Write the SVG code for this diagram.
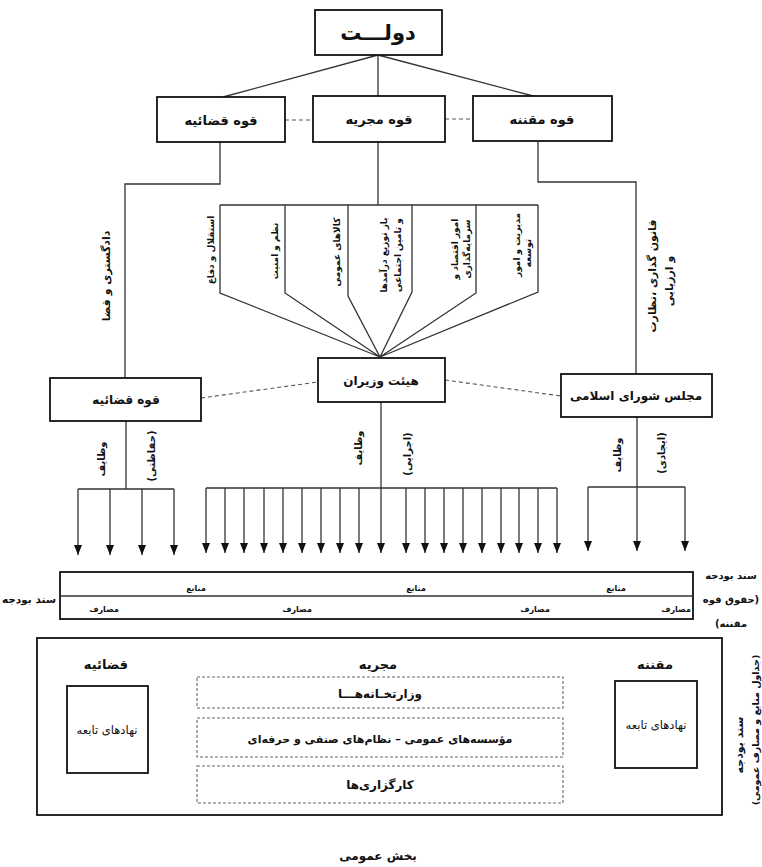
<svg xmlns="http://www.w3.org/2000/svg" width="762" height="867" viewBox="0 0 762 867">
<style>
.box{fill:#fff;stroke:#111;stroke-width:1.8}
.ln{stroke:#333;stroke-width:1.3;fill:none}
.dash{stroke:#555;stroke-width:1.1;stroke-dasharray:4 3;fill:none}
.dbox{stroke:#666;stroke-width:1.1;stroke-dasharray:3 2;fill:none}
.t{font-family:"DejaVu Sans",sans-serif;font-weight:bold;fill:#111;direction:rtl;text-anchor:middle}
.n{font-weight:normal}
.r{dominant-baseline:central}
.s8{font-size:8px}
.s9{font-size:9px}
.s10{font-size:10px}
.s11{font-size:11px}
.s12{font-size:12px}
.s13{font-size:13px}
</style>
<defs>
<marker id="ah" markerUnits="userSpaceOnUse" markerWidth="8" markerHeight="10" refX="4" refY="10" orient="0" viewBox="0 0 8 10">
<path d="M0,0 L8,0 L4,10 z" fill="#111"/>
</marker>
</defs>
<rect width="762" height="867" fill="#fff"/>

<g id="connectors">
<path class="ln" d="M378,55 L223,97 M378,55 L378,97 M378,55 L537,97"/>
<path class="dash" d="M285,120 L313,120 M445,119 L473,119"/>
<path class="ln" d="M220,142 L220,184 L125,184 L125,378"/>
<path class="ln" d="M538,142 L538,182 L636,182 L636,374"/>
<path class="ln" d="M378,142 L378,205"/>
<path class="ln" d="M220,205 L538,205 M220,205 L220,293 L380,357 M285,205 L285,293 L380,357 M348,205 L348,296 L380,357 M412,205 L412,292 L380,357 M476,205 L476,293 L380,357 M538,205 L538,292 L380,357"/>
<path class="dash" d="M201,398 L318,382 M445,380 L561,396"/>
<path class="ln" d="M126,421 L126,489 M78,489 L174,489"/>
<g class="ln" marker-end="url(#ah)">
<line x1="78" y1="489" x2="78" y2="555"/>
<line x1="110" y1="489" x2="110" y2="555"/>
<line x1="142" y1="489" x2="142" y2="555"/>
<line x1="174" y1="489" x2="174" y2="555"/>
</g>
<path class="ln" d="M206,488 L557,488"/>
<g class="ln" marker-end="url(#ah)">
<line x1="206" y1="488" x2="206" y2="553"/>
<line x1="225" y1="488" x2="225" y2="553"/>
<line x1="244" y1="488" x2="244" y2="553"/>
<line x1="264" y1="488" x2="264" y2="553"/>
<line x1="283" y1="488" x2="283" y2="553"/>
<line x1="302" y1="488" x2="302" y2="553"/>
<line x1="321" y1="488" x2="321" y2="553"/>
<line x1="340" y1="488" x2="340" y2="553"/>
<line x1="359" y1="488" x2="359" y2="553"/>
<line x1="381" y1="402" x2="381" y2="553"/>
<line x1="406" y1="488" x2="406" y2="553"/>
<line x1="425" y1="488" x2="425" y2="553"/>
<line x1="444" y1="488" x2="444" y2="553"/>
<line x1="463" y1="488" x2="463" y2="553"/>
<line x1="482" y1="488" x2="482" y2="553"/>
<line x1="501" y1="488" x2="501" y2="553"/>
<line x1="519" y1="488" x2="519" y2="553"/>
<line x1="538" y1="488" x2="538" y2="553"/>
<line x1="557" y1="488" x2="557" y2="553"/>
</g>
<path class="ln" d="M588,487 L685,487"/>
<g class="ln" marker-end="url(#ah)">
<line x1="588" y1="487" x2="588" y2="551"/>
<line x1="637" y1="417" x2="637" y2="551"/>
<line x1="685" y1="487" x2="685" y2="551"/>
</g>
</g>

<g id="dowlat">
<rect class="box" x="315" y="10" width="127" height="45" stroke-width="2"/>
<text class="t" x="378" y="40" font-size="21">دولـــت</text>
</g>

<g id="qove-qazaiye">
<rect class="box" x="157" y="97" width="128" height="45"/>
<text class="t s13" x="221" y="125">قوه قضائیه</text>
</g>
<g id="qove-mojriye">
<rect class="box" x="313" y="96" width="132" height="46"/>
<text class="t s13" x="379" y="124">قوه مجریه</text>
</g>
<g id="qove-moqanane">
<rect class="box" x="473" y="96" width="139" height="45"/>
<text class="t s13" x="542" y="124">قوه مقننه</text>
</g>

<g id="fan-labels">
<text class="t r s9" transform="translate(211,250) rotate(-90)">استقلال و دفاع</text>
<text class="t r s9" transform="translate(275,251) rotate(-90)">نظم و امنیت</text>
<text class="t r s9" transform="translate(337,252) rotate(-90)">کالاهای عمومی</text>
<text class="t r s9" transform="translate(384,255) rotate(-90)">باز توزیع درآمدها</text>
<text class="t r s9" transform="translate(398,255) rotate(-90)">و تامین اجتماعی</text>
<text class="t r s9" transform="translate(455,249) rotate(-90)">امور اقتصاد و</text>
<text class="t r s9" transform="translate(467,249) rotate(-90)">سرمایه‌گذاری</text>
<text class="t r s9" transform="translate(517,245) rotate(-90)">مدیریت و امور</text>
<text class="t r s9" transform="translate(528,253) rotate(-90)">توسعه</text>
</g>

<g id="branch-labels">
<text class="t r s11" transform="translate(106,276) rotate(-90)">دادگستری و قضا</text>
<text class="t r s11" transform="translate(652,276) rotate(-90)">قانون گذاری ،نظارت</text>
<text class="t r s11" transform="translate(669,281) rotate(-90)">و ارزیابی</text>
</g>

<g id="lower-qazaiye">
<rect class="box" x="50" y="378" width="151" height="43"/>
<text class="t s12" x="126" y="404">قوه  قضائیه</text>
</g>
<g id="hey-at-vaziran">
<rect class="box" x="318" y="358" width="127" height="44"/>
<text class="t s12" x="381" y="385">هیئت وزیران</text>
</g>
<g id="majles">
<rect class="box" x="561" y="374" width="151" height="43"/>
<text class="t s12" x="636" y="400">مجلس شورای اسلامی</text>
</g>

<g id="arrow-labels">
<text class="t r s10" transform="translate(101,459) rotate(-90)">وظایف</text>
<text class="t r s10" transform="translate(151,456) rotate(-90)">(حفاظتی)</text>
<text class="t r s10" transform="translate(358,448) rotate(-90)">وظایف</text>
<text class="t r s10" transform="translate(407,454) rotate(-90)">(اجرایی)</text>
<text class="t r s10" transform="translate(617,455) rotate(-90)">وظایف</text>
<text class="t r s10" transform="translate(661,453) rotate(-90)">(ایجادی)</text>
</g>

<g id="budget-band">
<rect class="box" x="60" y="572" width="633" height="47" stroke-width="1.5"/>
<line class="ln" x1="60" y1="596" x2="693" y2="596"/>
<text class="t s8" x="196" y="591">منابع</text>
<text class="t s8" x="416" y="591">منابع</text>
<text class="t s8" x="616" y="591">منابع</text>
<text class="t s8" x="104" y="612">مصارف</text>
<text class="t s8" x="297" y="612">مصارف</text>
<text class="t s8" x="535" y="612">مصارف</text>
<text class="t s8" x="676" y="612">مصارف</text>
<text class="t" font-size="10.5" x="29" y="603">سند بودجه</text>
<text class="t s10" x="731" y="579">سند بودجه</text>
<text class="t s10" x="731" y="603">(حقوق  قوه</text>
<text class="t s10" x="731" y="627">مقننه)</text>
</g>

<g id="public-sector">
<rect class="box" x="37" y="638" width="685" height="177"/>
<text class="t s13" x="106" y="669">قضائیه</text>
<text class="t s13" x="378" y="669">مجریه</text>
<text class="t s13" x="655" y="669">مقننه</text>
</g>
<g id="nahad-qazaiye">
<rect class="box" x="67" y="686" width="81" height="87"/>
<text class="t n" font-size="11.5" x="107" y="734">نهادهای تابعه</text>
</g>
<g id="nahad-moqanane">
<rect class="box" x="615" y="681" width="82" height="87"/>
<text class="t n" font-size="11.5" x="656" y="729">نهادهای تابعه</text>
</g>
<g id="vezaratkhane">
<rect class="dbox" x="197" y="677" width="366" height="31"/>
<text class="t s12" x="380" y="698">وزارتخـانه‌هـــا</text>
</g>
<g id="moassesat">
<rect class="dbox" x="197" y="718" width="366" height="39"/>
<text class="t s11" x="380" y="743">مؤسسه‌های عمومی – نظام‌های صنفی و حرفه‌ای</text>
</g>
<g id="kargozari">
<rect class="dbox" x="197" y="766" width="366" height="37"/>
<text class="t s12" x="380" y="789">کارگزاری‌ها</text>
</g>
<g id="side-labels">
<text class="t r s11" transform="translate(739,745) rotate(-90)">سند بودجه</text>
<text class="t r" font-size="9.5" transform="translate(755,730) rotate(-90)">(جداول منابع و مصارف عمومی)</text>
</g>
<text class="t s12" x="378" y="860">بخش عمومی</text>
</svg>
